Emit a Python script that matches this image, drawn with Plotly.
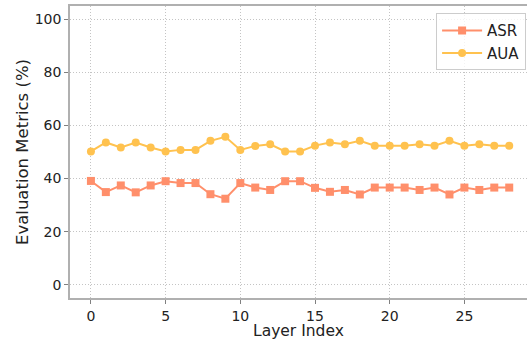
import plotly.graph_objects as go

layers = list(range(29))
asr = [39.1, 34.9, 37.4, 34.8, 37.4, 39.0, 38.3, 38.3, 34.1, 32.4,
       38.3, 36.6, 35.7, 39.0, 39.0, 36.5, 35.0, 35.7, 34.0, 36.6,
       36.6, 36.6, 35.7, 36.6, 34.0, 36.6, 35.7, 36.6, 36.6]
aua = [50.2, 53.6, 51.7, 53.6, 51.7, 50.2, 50.8, 50.8, 54.2, 55.7,
       50.8, 52.3, 52.9, 50.2, 50.2, 52.4, 53.6, 52.9, 54.2, 52.4,
       52.4, 52.4, 52.9, 52.4, 54.2, 52.4, 52.9, 52.4, 52.4]
x_ticks = [0, 5, 10, 15, 20, 25]
y_ticks = [0, 20, 40, 60, 80, 100]

ASR_C = "#FF8F6B"
AUA_C = "#FFC24F"

fig = go.Figure()
fig.add_trace(go.Scatter(x=layers, y=asr, name="ASR", mode="lines+markers",
                         line=dict(color=ASR_C, width=2),
                         marker=dict(symbol="square", size=8, color=ASR_C)))
fig.add_trace(go.Scatter(x=layers, y=aua, name="AUA", mode="lines+markers",
                         line=dict(color=AUA_C, width=2),
                         marker=dict(symbol="circle", size=8, color=AUA_C)))

axis_common = dict(showgrid=True, gridcolor="#c4c4c4", griddash="1px,2px", gridwidth=1,
                   zeroline=False, showline=True, linecolor="#b0b0b0", linewidth=1.5,
                   ticks="outside", ticklen=4, tickcolor="#808080", automargin=False,
                   tickfont=dict(family="DejaVu Sans", size=14, color="#222222"))

fig.update_layout(
    width=527, height=340,
    margin=dict(l=70, r=0, t=6, b=42),
    plot_bgcolor="white", paper_bgcolor="white",
    font=dict(family="DejaVu Sans", color="#222222"),
    xaxis=dict(range=[-1.4, 29.19], tickvals=x_ticks, mirror=True, **axis_common),
    yaxis=dict(range=[-5, 105], tickvals=y_ticks, mirror=True, **axis_common),
    legend=dict(x=0.998, y=0.975, xanchor="right", yanchor="top",
                bgcolor="rgba(255,255,255,0.8)", bordercolor="#cccccc", borderwidth=1,
                font=dict(size=15, family="DejaVu Sans"), itemwidth=40,
                tracegroupgap=0),
    showlegend=True,
    annotations=[
        dict(text="Layer Index", xref="paper", yref="paper", x=0.5, y=-0.0,
             yshift=-22, xanchor="center", yanchor="top", showarrow=False,
             font=dict(size=15.5, family="DejaVu Sans", color="#222222")),
        dict(text="Evaluation Metrics (%)", xref="paper", yref="paper",
             x=0, xshift=-48, y=0.5, xanchor="center", yanchor="middle",
             textangle=-90, showarrow=False,
             font=dict(size=16.5, family="DejaVu Sans", color="#222222")),
    ],
)

fig.write_html("out.html", config={"displayModeBar": False})
with open("out.html", "r", encoding="utf-8") as f:
    html = f.read()
html = html.replace("<head>", "<head><style>html,body{margin:0;padding:0;overflow:hidden}</style>", 1)
with open("out.html", "w", encoding="utf-8") as f:
    f.write(html)
